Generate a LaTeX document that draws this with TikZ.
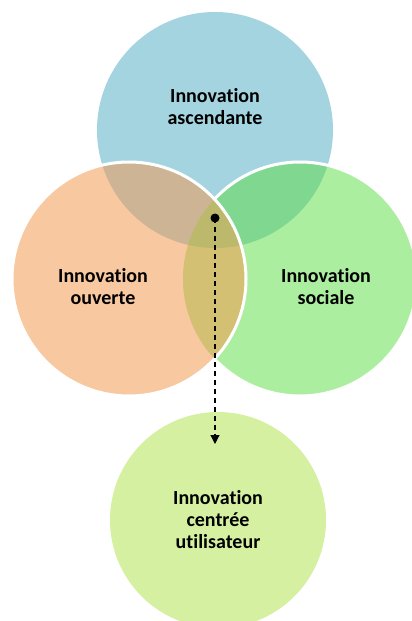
\documentclass[tikz,border=0pt]{standalone}
\usepackage{fontspec}
\setmainfont{Carlito}[Ligatures={NoCommon,NoContextual},RawFeature={-liga;-dlig}]
\usetikzlibrary{arrows.meta}
\definecolor{cblue}{HTML}{A4D4E0}
\definecolor{cgreen}{HTML}{ACEEA0}
\definecolor{corange}{HTML}{F8C8A0}
\definecolor{ctan}{HTML}{CCB494}
\definecolor{cbg}{HTML}{80D890}
\definecolor{clens}{HTML}{D4C072}
\definecolor{ctriple}{HTML}{BCB86C}
\definecolor{cbottom}{HTML}{D4F0A0}
\tikzset{
  lbl/.style={font=\bfseries\fontsize{20}{22}\selectfont, align=center, text=black, inner sep=0pt},
  whiteedge/.style={draw=white, line width=3pt},
  dashconn/.style={dashed, dash pattern=on 5pt off 4pt, line width=1.1pt, -{Triangle[length=9pt,width=9pt]}},
}
\begin{document}
\begin{tikzpicture}[x=1pt,y=1pt]
\useasboundingbox (0,0) rectangle (412,-621);
\coordinate (cB) at (215,-130);
\coordinate (cO) at (129,-279);
\coordinate (cG) at (300,-279);
\coordinate (cU) at (218,-520);
% fills
\fill[cblue] (cB) circle (118pt);
\fill[cgreen] (cG) circle (117pt);
\fill[corange] (cO) circle (117pt);
\fill[cbottom] (cU) circle (108pt);
% overlaps
\begin{scope}
  \clip (cB) circle (118pt);
  \fill[ctan] (cO) circle (117pt);
  \fill[cbg] (cG) circle (117pt);
\end{scope}
\begin{scope}
  \clip (cO) circle (117pt);
  \fill[clens] (cG) circle (117pt);
  \clip (cG) circle (117pt);
  \fill[ctriple] (cB) circle (118pt);
\end{scope}
% white borders
\begin{scope}[even odd rule]
  \clip (-20,20) rectangle (440,-650) (cO) circle (117pt);
  \draw[whiteedge] (cG) circle (117pt);
\end{scope}
\draw[whiteedge] (cO) circle (117pt);
% labels
\node[lbl] (tB) at (215,-107) {Innovat\kern0pt ion\\ascendante};
\node[lbl] (tO) at (103,-287) {Innovat\kern0pt ion\\ouverte};
\node[lbl] (tG) at (326,-287) {Innovat\kern0pt ion\\sociale};
\node[lbl] (tU) at (218,-520) {Innovat\kern0pt ion\\centrée\\ut\kern0pt ilisateur};
% connector
\node[circle, fill=black, inner sep=0pt, minimum size=9pt] (dot) at (215,-218) {};
\coordinate (tip) at (215,-444);
\draw[dashconn] (dot.center) -- (tip);
\end{tikzpicture}
\end{document}
